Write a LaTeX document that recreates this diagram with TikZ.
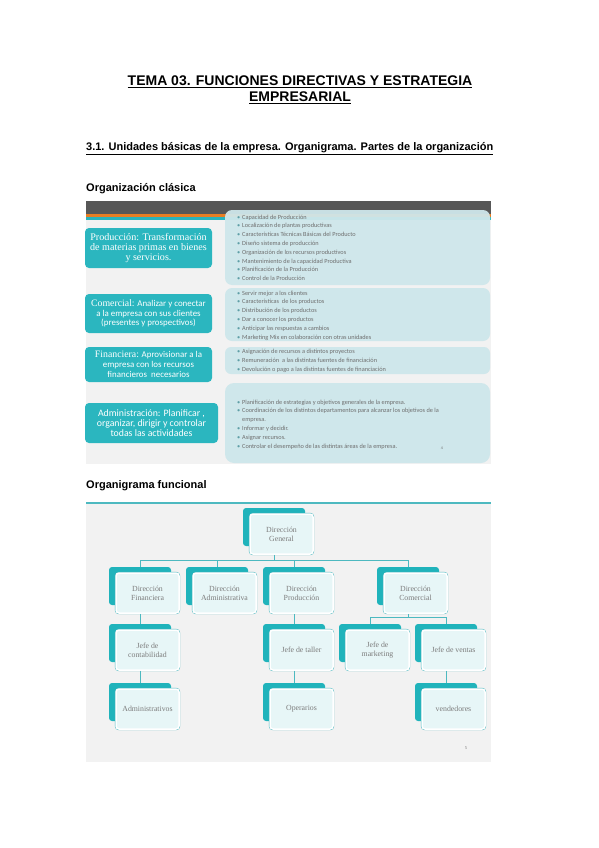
\documentclass[tikz,border=0pt]{standalone}
\usepackage{fontspec}
\setmainfont{Liberation Serif}
\setsansfont{Liberation Sans}
\newfontfamily\hfont{Liberation Sans}
\newfontfamily\calfont{Carlito}
\newfontfamily\serfont{Liberation Serif}
\definecolor{figbg}{HTML}{F2F2F2}
\definecolor{band}{HTML}{575757}
\definecolor{orangeS}{HTML}{E87E23}
\definecolor{tealS}{HTML}{2AB3BC}
\definecolor{tealbox}{HTML}{2BB6BF}
\definecolor{rightbox}{HTML}{CFE7EB}
\definecolor{bultxt}{HTML}{6E6E6E}
\definecolor{bulc}{HTML}{5E9EA6}
\definecolor{orgback}{HTML}{20B3BB}
\definecolor{frontfill}{HTML}{E7F6F7}
\definecolor{orgline}{HTML}{4DB9C0}
\definecolor{orgtext}{HTML}{7C7C7C}
\tikzset{
  headtext/.style={anchor=base west, inner sep=0, font=\hfont\bfseries\fontsize{11}{13}\selectfont},
  bultext/.style={anchor=base west, inner sep=0, font=\calfont\fontsize{6.3}{8}\selectfont, text=bultxt},
  leftbox/.style={fill=tealbox, rounded corners=4pt, text=white, align=center, inner sep=0},
  backbox/.style={fill=orgback, rounded corners=3pt, minimum width=62pt, minimum height=38pt, inner sep=0},
  frontbox/.style={preaction={draw=orgline, line width=2.4pt}, fill=frontfill, draw=white, line width=1.5pt,
    rounded corners=3pt, minimum width=63pt, minimum height=40pt, inner sep=0,
    font=\serfont\fontsize{7.8}{9}\selectfont, text=orgtext, align=center},
  conn/.style={draw=orgline, line width=0.9pt}
}
\newcommand\bullist[4]{%
  \foreach \t [count=\i] in {#4}{%
    \node[bultext] (#1-\i) at (242,{#2+(\i-1)*#3}) {\llap{\textcolor{bulc}{\textbullet}\hspace{2pt}}\t};
  }}
\newcommand\orgbox[4]{%
  \node[backbox] (#1b) at ({#2+31},{#3+19}) {};
  \node[frontbox] (#1) at ({#2+38.5},{#3+26}) {#4};
}
\begin{document}
\begin{tikzpicture}[x=1pt,y=-1pt]
\useasboundingbox (0,0) rectangle (599,848);
\fill[white] (0,0) rectangle (599,848);
% ---- headings
\node[anchor=base, inner sep=0, font=\hfont\bfseries\fontsize{14}{16}\selectfont] (t1) at (300,86) {\underline{TEMA 03. FUNCIONES DIRECTIVAS Y ESTRATEGIA}};
\node[anchor=base, inner sep=0, font=\hfont\bfseries\fontsize{14}{16}\selectfont] (t2) at (300,101.5) {\underline{EMPRESARIAL}};
\node[headtext] (h1) at (86,150) {\underline{3.1. Unidades básicas de la empresa. Organigrama. Partes de la organización}};
\node[headtext] (h2) at (86,191) {Organización clásica};
\node[headtext] (h3) at (86,488) {Organigrama funcional};
% ---- figure 1
\fill[figbg] (86,201) rectangle (491,464);
\fill[band] (86,201) rectangle (491,214);
\fill[orangeS] (86,214) rectangle (491,216.5);
\fill[tealS] (86,216.5) rectangle (491,219.5);
\fill[rightbox, opacity=0.95, rounded corners=7pt] (225,210) rectangle (490,285);
\fill[rightbox, rounded corners=7pt] (225,288) rectangle (490,341);
\fill[rightbox, rounded corners=6pt] (225,347) rectangle (490,374);
\fill[rightbox, rounded corners=9pt] (225,383) rectangle (490,463);
\node[leftbox, minimum width=127pt, minimum height=40pt, font=\serfont\fontsize{10.1}{10}\selectfont] (lb1) at (148.5,248)
  {Producción: Transformación\\de materias primas en bienes\\y servicios.};
\node[leftbox, minimum width=127pt, minimum height=39pt, font=\calfont\fontsize{8.9}{9.6}\selectfont] (lb2) at (148.5,313.5)
  {{\serfont\fontsize{9.8}{9.6}\selectfont Comercial:} Analizar y conectar\\a la empresa con sus clientes\\(presentes y prospectivos)};
\node[leftbox, minimum width=127pt, minimum height=35pt, font=\calfont\fontsize{8.9}{9.8}\selectfont] (lb3) at (148.5,364.5)
  {{\serfont\fontsize{9.8}{9.8}\selectfont Financiera:} Aprovisionar a la\\empresa con los recursos\\financieros\ \ necesarios};
\node[leftbox, minimum width=133pt, minimum height=40pt, font=\calfont\fontsize{9.8}{10}\selectfont] (lb4) at (151.5,423)
  {Administración: Planificar ,\\organizar, dirigir y controlar\\todas las actividades};
\bullist{a}{219}{8.8}{Capacidad de Producción,Localización de plantas productivas,Características Técnicas Básicas del Producto,Diseño sistema de producción,Organización de los recursos productivos,Mantenimiento de la capacidad Productiva,Planificación de la Producción,Control de la Producción}
\bullist{b}{295}{8.8}{Servir mejor a los clientes,Características\ \ de los productos,Distribución de los productos,Dar a conocer los productos,Anticipar las respuestas a cambios,Marketing Mix en colaboración con otras unidades}
\bullist{c}{353}{9}{Asignación de recursos a distintos proyectos,Remuneración\ \ a las distintas fuentes de financiación,Devolución o pago a las distintas fuentes de financiación}
\bullist{d}{404}{8.8}{Planificación de estrategias y objetivos generales de la empresa.,Coordinación de los distintos departamentos para alcanzar los objetivos de la}
\node[bultext] (d-w) at (242,421.5) {empresa.};
\bullist{e}{430.5}{8.8}{Informar y decidir.,Asignar recursos.,Controlar el desempeño de las distintas áreas de la empresa.}
\node[inner sep=0, font=\calfont\fontsize{4}{5}\selectfont, text=bultxt] (p4) at (442,448) {4};
% ---- figure 2
\fill[figbg] (86,504) rectangle (491,762);
\draw[orgline, line width=1.6pt] (86,503) -- (491,503);
\coordinate (hy1) at (0,560);
\coordinate (hy2) at (0,617);
\orgbox{dg}{243}{508}{Dirección\\General}
\orgbox{fin}{109}{567}{Dirección\\Financiera}
\orgbox{adm}{186}{567}{Dirección\\Administrativa}
\orgbox{pro}{263}{567}{Dirección\\Producción}
\orgbox{com}{377}{567}{Dirección\\Comercial}
\orgbox{con}{109}{624}{Jefe de\\contabilidad}
\orgbox{tal}{263}{624}{Jefe de taller}
\orgbox{mkt}{339}{624}{Jefe de\\marketing}
\orgbox{ven}{415}{624}{Jefe de ventas}
\orgbox{adv}{109}{683}{Administrativos}
\orgbox{ope}{263}{683}{Operarios}
\orgbox{vdd}{415}{683}{vendedores}
% connectors
\draw[conn] (dgb.south |- dg.south) -- (dgb.south |- hy1);
\draw[conn] (finb.north |- hy1) -- (comb.north |- hy1);
\draw[conn] (finb.north |- hy1) -- (finb.north);
\draw[conn] (admb.north |- hy1) -- (admb.north);
\draw[conn] (prob.north |- hy1) -- (prob.north);
\draw[conn] (comb.north |- hy1) -- (comb.north);
\draw[conn] (finb.south |- fin.south) -- (conb.north);
\draw[conn] (prob.south |- pro.south) -- (talb.north);
\draw[conn] (comb.south |- com.south) -- (comb.south |- hy2);
\draw[conn] (mktb.north |- hy2) -- (venb.north |- hy2);
\draw[conn] (mktb.north |- hy2) -- (mktb.north);
\draw[conn] (venb.north |- hy2) -- (venb.north);
\draw[conn] (conb.south |- con.south) -- (advb.north);
\draw[conn] (talb.south |- tal.south) -- (opeb.north);
\draw[conn] (venb.south |- ven.south) -- (vddb.north);
\node[inner sep=0, font=\serfont\fontsize{4.5}{5}\selectfont, text=orgtext] (p5) at (466,748) {5};
\end{tikzpicture}
\end{document}
